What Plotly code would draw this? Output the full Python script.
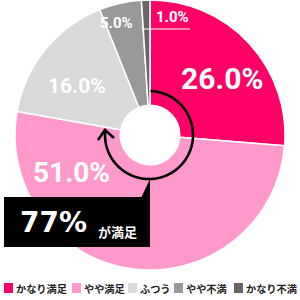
import numpy as np
import plotly.graph_objects as go

# ---- data ----
categories = ["かなり満足", "やや満足", "ふつう", "やや不満", "かなり不満"]
values = [26.0, 51.0, 16.0, 5.0, 1.0]
colors = ["#ff0066", "#ff99cc", "#d9d9d9", "#999999", "#666666"]
callout_value = "77%"
callout_text = "が満足"

# ---- label styling / placement (pixels in a 300x300 canvas) ----
label_pos = [(222, 79), (71, 172), (77, 86), (116, 23), (172, 17)]
label_size = [30, 28, 21, 15, 15]
legend_sq_x = [4, 72, 128, 174, 234]
legend_y = 288

W = H = 300
def px(x):
    return x / W
def py(y):
    return 1 - y / H

fig = go.Figure()
fig.add_trace(go.Pie(
    labels=categories, values=values, sort=False, direction="clockwise",
    rotation=0, hole=0.22,
    marker=dict(colors=colors, line=dict(color="white", width=1.5)),
    textinfo="none", hoverinfo="label+value", showlegend=False,
    domain=dict(x=[0, 1], y=[0.1, 1.0]),
))

annotations = []
shapes = []

# slice value labels
for v, (lx, ly), s in zip(values, label_pos, label_size):
    annotations.append(dict(
        x=px(lx), y=py(ly), xref="paper", yref="paper", showarrow=False,
        text=f"{v:.1f}%", xanchor="center", yanchor="middle",
        font=dict(family="Roboto", size=s, color="white", weight="bold"),
    ))
# leader underline for the small slice label
shapes.append(dict(type="line", xref="paper", yref="paper",
                   x0=px(142), y0=py(29), x1=px(190), y1=py(29),
                   line=dict(color="white", width=1.2)))

# circular arrow around hole
cx, cy, r = 149, 135, 44
th = np.radians(np.linspace(2, 277, 120))
xs = cx + r * np.sin(th)
ys = cy - r * np.cos(th)
path = "M " + " L ".join(f"{px(a):.5f},{py(b):.5f}" for a, b in zip(xs, ys))
shapes.append(dict(type="path", xref="paper", yref="paper", path=path,
                   line=dict(color="black", width=2.6)))
head = f"M {px(98)},{py(140)} L {px(105)},{py(130)} L {px(114)},{py(138)}"
shapes.append(dict(type="path", xref="paper", yref="paper", path=head,
                   line=dict(color="black", width=2.6)))

# callout box with pointer
shapes.append(dict(type="rect", xref="paper", yref="paper",
                   x0=px(4), y0=py(247), x1=px(150), y1=py(197),
                   fillcolor="black", line=dict(width=0)))
tri = f"M {px(150)},{py(179)} L {px(141)},{py(198)} L {px(150)},{py(198)} Z"
shapes.append(dict(type="path", xref="paper", yref="paper", path=tri,
                   fillcolor="black", line=dict(width=0)))
annotations.append(dict(
    x=px(18), y=py(222), xref="paper", yref="paper", showarrow=False,
    text=callout_value, xanchor="left", yanchor="middle",
    font=dict(family="DejaVu Sans", size=28, color="white", weight="bold"),
))
annotations.append(dict(
    x=px(96), y=py(231), xref="paper", yref="paper", showarrow=False,
    text=callout_text, xanchor="left", yanchor="middle",
    font=dict(family="Noto Sans CJK JP", size=13, color="white", weight="bold"),
))

# legend (drawn manually to fit in one row)
for c, name, sx in zip(colors, categories, legend_sq_x):
    shapes.append(dict(type="rect", xref="paper", yref="paper",
                       x0=px(sx), y0=py(legend_y + 5), x1=px(sx + 9), y1=py(legend_y - 5),
                       fillcolor=c, line=dict(width=0)))
    annotations.append(dict(
        x=px(sx + 10), y=py(legend_y), xref="paper", yref="paper", showarrow=False,
        text=name, xanchor="left", yanchor="middle",
        font=dict(family="Noto Sans CJK JP", size=10.2, color="#222222", weight="bold"),
    ))

fig.update_layout(
    width=W, height=H, margin=dict(l=0, r=0, t=0, b=0),
    paper_bgcolor="white", plot_bgcolor="white",
    shapes=shapes, annotations=annotations,
)
fig.write_html("out.html")
